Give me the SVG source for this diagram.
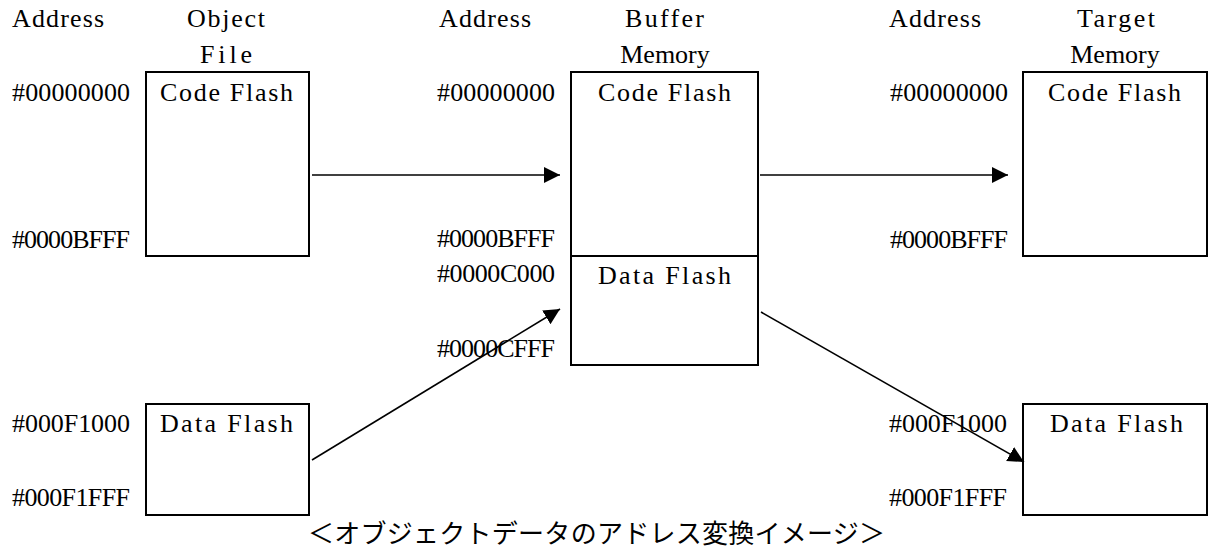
<svg xmlns="http://www.w3.org/2000/svg" width="1208" height="553" viewBox="0 0 1208 553">
<style>
  .t { font-family: "Liberation Serif", "Times New Roman", serif; font-size: 26px; fill: #000; }
  .m { text-anchor: middle; }
  .cap { font-family: "Noto Sans CJK JP", "Noto Sans CJK SC", sans-serif; font-size: 26px; fill: #000; }
  .box { fill: #fff; stroke: #000; stroke-width: 2; }
  .conn { stroke: #000; stroke-width: 1.6; fill: none; marker-end: url(#arrow); }
</style>
<defs>
  <marker id="arrow" markerUnits="userSpaceOnUse" markerWidth="17" markerHeight="17" refX="16" refY="8" orient="auto">
    <path d="M0,0 L16,8 L0,16 z" fill="#000"/>
  </marker>
</defs>
<rect width="1208" height="553" fill="#fff"/>

<g id="headers">
  <text class="t" x="12" y="27" textLength="92" lengthAdjust="spacing">Address</text>
  <text class="t" x="187" y="27" textLength="78" lengthAdjust="spacing">Object</text>
  <text class="t" x="200" y="63" textLength="52" lengthAdjust="spacing">File</text>
  <text class="t" x="439" y="27" textLength="92" lengthAdjust="spacing">Address</text>
  <text class="t" x="625" y="27" textLength="79" lengthAdjust="spacing">Buffer</text>
  <text class="t m" x="665" y="63">Memory</text>
  <text class="t" x="889" y="27" textLength="92" lengthAdjust="spacing">Address</text>
  <text class="t" x="1077" y="27" textLength="78" lengthAdjust="spacing">Target</text>
  <text class="t m" x="1115" y="63">Memory</text>
</g>

<g id="obj-code">
  <rect class="box" x="146" y="72" width="163" height="184"/>
  <text class="t" x="160" y="101" textLength="133" lengthAdjust="spacing">Code Flash</text>
  <text class="t" x="12" y="101" textLength="118" lengthAdjust="spacing">#00000000</text>
  <text class="t" x="12" y="248" textLength="118" lengthAdjust="spacing">#0000BFFF</text>
</g>

<g id="obj-data">
  <rect class="box" x="146" y="404" width="163" height="111"/>
  <text class="t" x="160" y="432" textLength="133" lengthAdjust="spacing">Data Flash</text>
  <text class="t" x="12" y="432" textLength="118" lengthAdjust="spacing">#000F1000</text>
  <text class="t" x="12" y="506" textLength="118" lengthAdjust="spacing">#000F1FFF</text>
</g>

<g id="buf-code">
  <rect class="box" x="571" y="72" width="187" height="184"/>
  <text class="t" x="598" y="101" textLength="133" lengthAdjust="spacing">Code Flash</text>
  <text class="t" x="437" y="101" textLength="118" lengthAdjust="spacing">#00000000</text>
  <text class="t" x="437" y="247" textLength="118" lengthAdjust="spacing">#0000BFFF</text>
</g>

<g id="buf-data">
  <rect class="box" x="571" y="256" width="187" height="109"/>
  <text class="t" x="598" y="284" textLength="133" lengthAdjust="spacing">Data Flash</text>
  <text class="t" x="437" y="282" textLength="118" lengthAdjust="spacing">#0000C000</text>
  <text class="t" x="437" y="357" textLength="118" lengthAdjust="spacing">#0000CFFF</text>
</g>

<g id="tgt-code">
  <rect class="box" x="1023" y="72" width="184" height="184"/>
  <text class="t" x="1048" y="101" textLength="133" lengthAdjust="spacing">Code Flash</text>
  <text class="t" x="890" y="101" textLength="118" lengthAdjust="spacing">#00000000</text>
  <text class="t" x="890" y="248" textLength="118" lengthAdjust="spacing">#0000BFFF</text>
</g>

<g id="tgt-data">
  <rect class="box" x="1023" y="404" width="184" height="111"/>
  <text class="t" x="1050" y="432" textLength="133" lengthAdjust="spacing">Data Flash</text>
  <text class="t" x="889" y="432" textLength="118" lengthAdjust="spacing">#000F1000</text>
  <text class="t" x="889" y="506" textLength="118" lengthAdjust="spacing">#000F1FFF</text>
</g>

<g id="connectors">
  <path class="conn" d="M312,175 L560,175"/>
  <path class="conn" d="M760,175 L1008,175"/>
  <path class="conn" d="M312,460 L560,309"/>
  <path class="conn" d="M761,312 L1024,462"/>
</g>

<g id="caption">
  <text class="cap" x="308" y="543" textLength="577" lengthAdjust="spacing">＜オブジェクトデータのアドレス変換イメージ＞</text>
</g>
</svg>
